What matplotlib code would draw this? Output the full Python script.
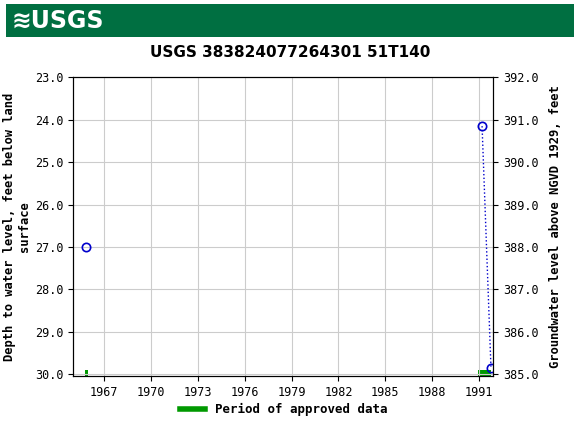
import matplotlib
matplotlib.use("Agg")
import matplotlib.pyplot as plt
from matplotlib.patches import Rectangle

years = [1965.85, 1991.2, 1991.77]
depth = [27.0, 24.15, 29.85]
approved = [(1965.75, 1965.95), (1990.95, 1991.75)]
xticks = [1967, 1970, 1973, 1976, 1979, 1982, 1985, 1988, 1991]
yticks = [23, 24, 25, 26, 27, 28, 29, 30]
datum = 415.0

fig = plt.figure(figsize=(5.8, 4.3), dpi=100)
plt.rcParams['font.family'] = 'DejaVu Sans Mono'
fig.patch.set_facecolor('white')
hdr = fig.add_axes([0.01, 0.915, 0.98, 0.075])
hdr.set_facecolor('#006f41'); hdr.set_xticks([]); hdr.set_yticks([])
for s in hdr.spines.values(): s.set_visible(False)
hdr.text(0.01, 0.5, "≋USGS", color='white', fontsize=17, fontweight='bold', va='center', family='DejaVu Sans')

ax = fig.add_axes([0.126, 0.125, 0.724, 0.695])
ax.set_xlim(1965.0, 1991.9)
ax.set_ylim(30.05, 23.0)
ax.set_xticks(xticks); ax.set_yticks(yticks)
ax.set_yticklabels([f"{v:.1f}" for v in yticks])
ax.grid(True, color='#cccccc', lw=0.8)
ax.tick_params(labelsize=8.5)
ax.plot(years[1:], depth[1:], ':', color='#0000cc', lw=1)
ax.plot(years, depth, 'o', mfc='none', mec='#0000cc', ms=6, mew=1.2, ls='none')
for a, b in approved:
    ax.add_patch(Rectangle((a, 29.9), b - a, 0.14, color='#009900', clip_on=False, lw=0))
ax.set_ylabel("Depth to water level, feet below land\nsurface", fontsize=8.7, fontweight='bold', labelpad=3)
ax2 = ax.twinx()
ax2.set_ylim(datum - 30.05, datum - 23.0)
ax2.set_yticks([385, 386, 387, 388, 389, 390, 391, 392])
ax2.set_yticklabels([f"{v:.1f}" for v in range(385, 393)])
ax2.tick_params(labelsize=8.5)
ax2.set_ylabel("Groundwater level above NGVD 1929, feet", fontsize=8.7, fontweight='bold', labelpad=8)
fig.text(0.5, 0.877, "USGS 383824077264301 51T140", ha='center', va='center', fontsize=11, fontweight='bold', family='DejaVu Sans')
fig.legend(handles=[plt.Line2D([], [], color='#009900', lw=4)], labels=["Period of approved data"],
           loc='center', bbox_to_anchor=(0.49, 0.047), frameon=False, prop={'weight': 'bold', 'size': 9})
fig.savefig("out.png", dpi=100)
